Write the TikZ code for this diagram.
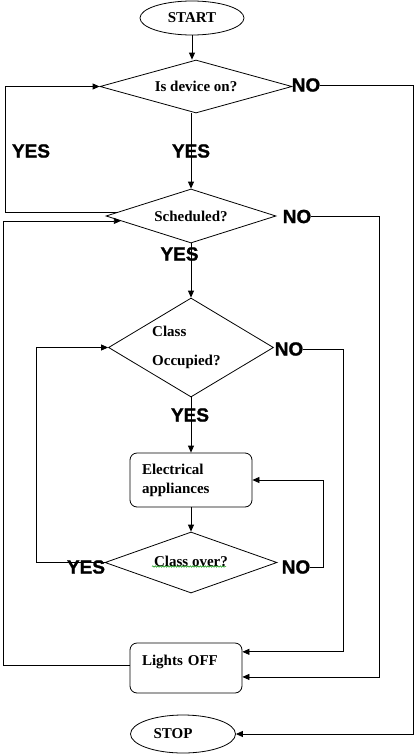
\documentclass[tikz,border=0pt]{standalone}
\usepackage{fontspec}
\setmainfont{Liberation Serif}
\newfontfamily\labfont[BoldFeatures={FakeBold=1.2}]{Liberation Sans}
\usetikzlibrary{shapes.geometric,arrows.meta,decorations.pathmorphing}
\tikzset{
  base/.style={line width=0.8pt},
  term/.style={base,draw,ellipse,inner sep=0pt},
  dec/.style={base,draw,diamond,inner sep=0pt},
  proc/.style={base,draw,rectangle,rounded corners=7pt,inner xsep=12pt,inner ysep=0pt,align=left},
  lab/.style={font=\labfont\bfseries\fontsize{19}{19}\selectfont,inner sep=0pt},
  arr/.style={base,-{Triangle[length=7pt,width=6pt]}},
  con/.style={base},
  squiggle/.style={draw=green!55!black,line width=0.5pt,decorate,decoration={snake,amplitude=0.7pt,segment length=2.5pt}}
}
\begin{document}
\begin{tikzpicture}[x=1pt,y=-1pt,every node/.append style={font=\fontsize{15}{17}\selectfont\bfseries}]
\useasboundingbox (0,0) rectangle (415,755);
% shapes
\node[term,minimum width=104pt,minimum height=34pt] (start) at (192,18) {START};
\node[dec,aspect=3.6,minimum width=192pt,minimum height=53pt] (d1) at (196,86.5) {Is device on?};
\node[dec,aspect=3.1,minimum width=170pt,minimum height=54pt] (d2) at (191,216) {Scheduled?};
\node[dec,minimum width=165pt,minimum height=99pt] (d3) at (191,347.5) {};
\node[anchor=west,align=left,inner sep=0pt] (d3t) at (152,347.5) {Class\\[12pt]Occupied?};
\node[proc,minimum width=122pt,minimum height=54pt,text width=98pt] (box1) at (191,480) {Electrical\\[2pt]appliances};
\node[dec,aspect=2.8,minimum width=172pt,minimum height=61pt] (d4) at (191,562.5) {\raisebox{2pt}{Class over?}};
\node[proc,minimum width=112pt,minimum height=50pt,text width=88pt] (lights) at (186,668) {Lights OFF\\[-6pt]\strut};
\node[term,minimum width=105pt,minimum height=38pt] (stop) at (183,734) {STOP\hspace*{20pt}};
% labels
\node[lab] (y1) at (191,151) {YES};
\node[lab] (y0) at (31,151) {YES};
\node[lab] (n1) at (306,85) {NO};
\node[lab] (n2) at (297,216.5) {NO};
\node[lab] (y2) at (179.5,254) {YES};
\node[lab] (n3) at (289,349) {NO};
\node[lab] (y3) at (190,415) {YES};
\node[lab] (n4) at (296,567) {NO};
\node[lab] (y4) at (86,567) {YES};
% helper columns
\coordinate (xr1) at (413,0);
\coordinate (xr2) at (379,0);
\coordinate (xr3) at (343,0);
\coordinate (xr4) at (323,0);
\coordinate (xl1) at (5,0);
\coordinate (xl2) at (3,0);
\coordinate (xl3) at (36,0);
% connectors
\draw[arr] (start.south) -- (start.south |- d1.north);
\draw[arr] (d1.south -| d2.north) -- (d2.north);
\draw[arr] (n1.east) -- (n1.east -| xr1) |- (stop.east);
\draw[arr] (d2.177) -- (d2.177 -| xl1) |- (d1.west);
\draw[arr] (lights.177) -- (lights.177 -| xl2) |- (d2.184);
\draw[arr] (d2.south) -- (d3.north);
\draw[arr] (n2.east) -- (n2.east -| xr2) |- (lights.-9);
\draw[arr] (n3.east) -- (n3.east -| xr3) |- (lights.16);
\draw[arr] (d3.south) -- (box1.north);
\draw[arr] (box1.south) -- (d4.north);
\draw[arr] (n4.east) -- (n4.east -| xr4) |- (box1.east);
\draw[arr] (d4.west) -- (d4.west -| xl3) |- (d3.west);
% spell-check underline
\draw[squiggle] (152,566.5) -- (226,566.5);
\end{tikzpicture}
\end{document}
